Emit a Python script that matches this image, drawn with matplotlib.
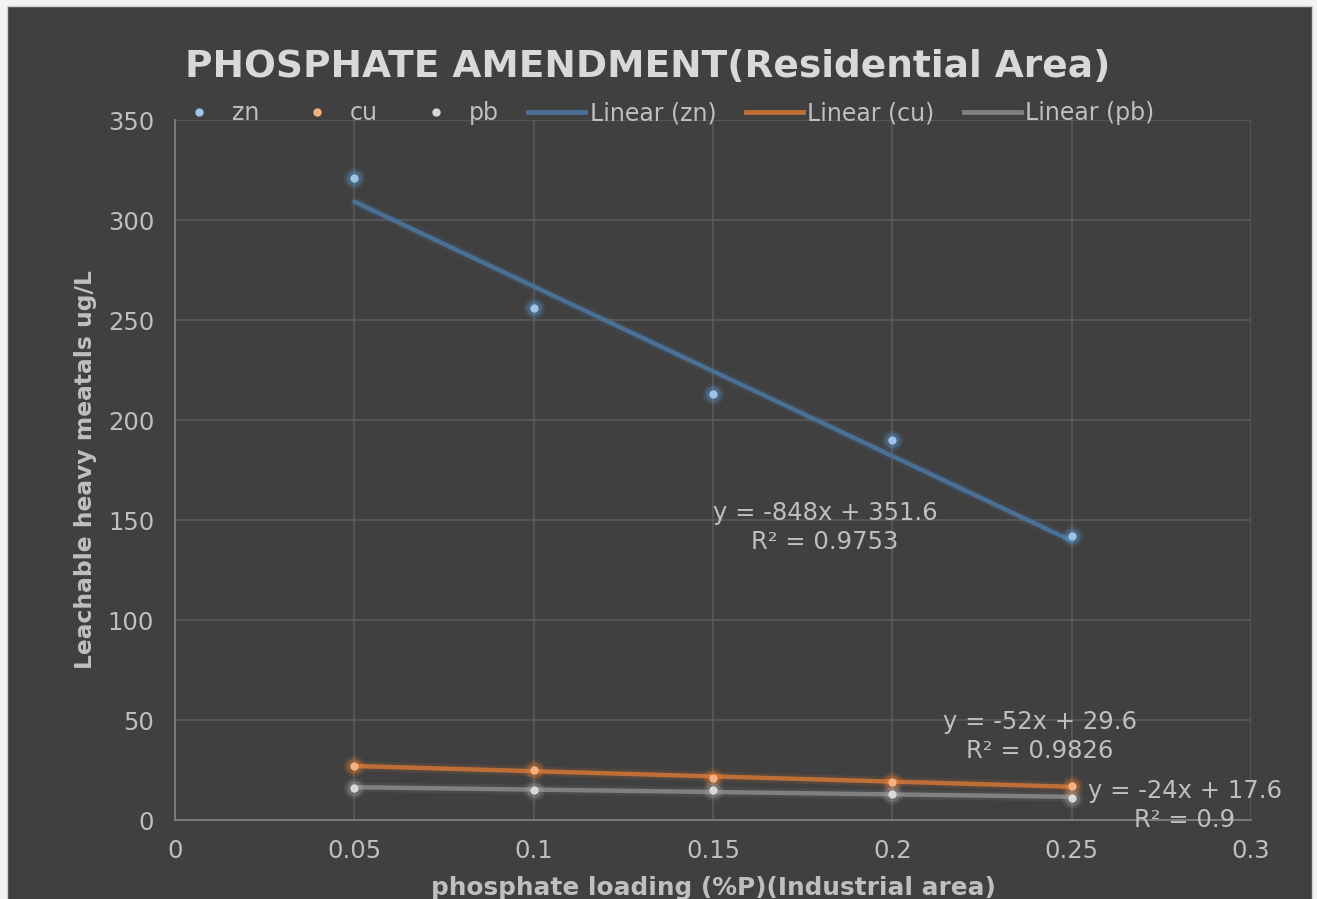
import numpy as np
import matplotlib
matplotlib.use("Agg")
import matplotlib.pyplot as plt
from matplotlib.patches import Rectangle
from matplotlib.lines import Line2D

# data
loading = [0.05, 0.1, 0.15, 0.2, 0.25]
zn = [321, 256, 213, 190, 142]
cu = [27, 25, 21, 19, 17]
pb = [16, 15, 15, 13, 11]
series_names = ['zn', 'cu', 'pb']
x_ticks = [0, 0.05, 0.1, 0.15, 0.2, 0.25, 0.3]
y_ticks = [0, 50, 100, 150, 200, 250, 300, 350]

BG = '#404040'
TXT = '#BFBFBF'
marker_cols = ['#9DC3E6', '#F4B183', '#D9D9D9']
glow_cols = ['#5B9BD5', '#ED7D31', '#A5A5A5']
line_cols = ['#4A7096', '#BE6E37', '#808080']
# where each trendline equation sits (data coords)
eq_pos = [(0.1812, 146.2), (0.2412, 41.7), (0.2816, 7.2)]
FS = 17.5

fig = plt.figure(figsize=(13.17, 8.99), dpi=100, facecolor='#F2F2F2')
bg = Rectangle((7 / 1317, -0.01), 1305 / 1317, 1 - 6 / 899 + 0.01,
               transform=fig.transFigure, facecolor=BG,
               edgecolor='#D0D0D0', lw=1, zorder=-10)
fig.patches.append(bg)

ax = fig.add_axes([175 / 1317, 1 - 820 / 899, 1076 / 1317, 700 / 899])
ax.set_facecolor(BG)
ax.set_zorder(1)

handles_pts, handles_lines = [], []
for name, vals, mc, gc, lc, pos in zip(series_names, [zn, cu, pb], marker_cols, glow_cols,
                                       line_cols, eq_pos):
    x = np.array(loading)
    y = np.array(vals, dtype=float)
    slope, icpt = np.polyfit(x, y, 1)
    fit = slope * x + icpt
    r2 = 1 - np.sum((y - fit) ** 2) / np.sum((y - y.mean()) ** 2)
    xl = np.array([x.min(), x.max()])
    ax.plot(xl, slope * xl + icpt, color=lc, lw=7, alpha=0.15, solid_capstyle='round', zorder=3)
    ax.plot(xl, slope * xl + icpt, color=lc, lw=3.2, solid_capstyle='round', zorder=4)
    ax.plot(x, y, 'o', color=gc, ms=15, alpha=0.15, mew=0, zorder=5)
    ax.plot(x, y, 'o', color=gc, ms=11, alpha=0.3, mew=0, zorder=5)
    ax.plot(x, y, 'o', color=mc, ms=6, mew=0, zorder=6)
    r2_txt = ('%.4f' % r2).rstrip('0')
    ax.text(pos[0], pos[1], 'y = %gx + %g\nR² = %s' % (round(slope), round(icpt, 1), r2_txt),
            ha='center', va='center', fontsize=FS, color=TXT, linespacing=1.25, zorder=7,
            clip_on=False)
    handles_pts.append(Line2D([], [], ls='none', marker='o', ms=6, mew=0, color=mc, label=name))
    handles_lines.append(Line2D([], [], color=lc, lw=3.5, label='Linear (%s)' % name))

ax.set_xlim(0, 0.3)
ax.set_ylim(0, 350)
ax.set_xticks(x_ticks)
ax.set_yticks(y_ticks)
ax.set_xticklabels(['%g' % t for t in x_ticks])
ax.grid(True, color='#5A5A5A', lw=1.2, zorder=1)
ax.set_axisbelow(True)
for s in ['top', 'right']:
    ax.spines[s].set_visible(False)
for s in ['left', 'bottom']:
    ax.spines[s].set_color('#7F7F7F')
    ax.spines[s].set_linewidth(1.3)
ax.tick_params(length=0, labelsize=FS, labelcolor=TXT)
ax.tick_params(axis='x', pad=14)
ax.tick_params(axis='y', pad=15)

ax.set_xlabel('phosphate loading (%P)(Industrial area)', fontsize=17.8, fontweight='bold',
              color=TXT, labelpad=9)
ax.set_ylabel('Leachable heavy meatals ug/L', fontsize=16.8, fontweight='bold',
              color=TXT, labelpad=8)

fig.text(0.492, 0.925, 'PHOSPHATE AMENDMENT(Residential Area)', fontsize=27,
         fontweight='bold', color='#D9D9D9', ha='center', va='center')

leg = fig.legend(handles=handles_pts + handles_lines, loc='center', bbox_to_anchor=(0.503, 0.874),
                 ncol=6, frameon=False, fontsize=17, labelcolor=TXT, handlelength=2.4,
                 handletextpad=0.2, columnspacing=1.25, borderaxespad=0)
leg.set_zorder(5)

fig.savefig('out.png', dpi=100, facecolor=fig.get_facecolor())
